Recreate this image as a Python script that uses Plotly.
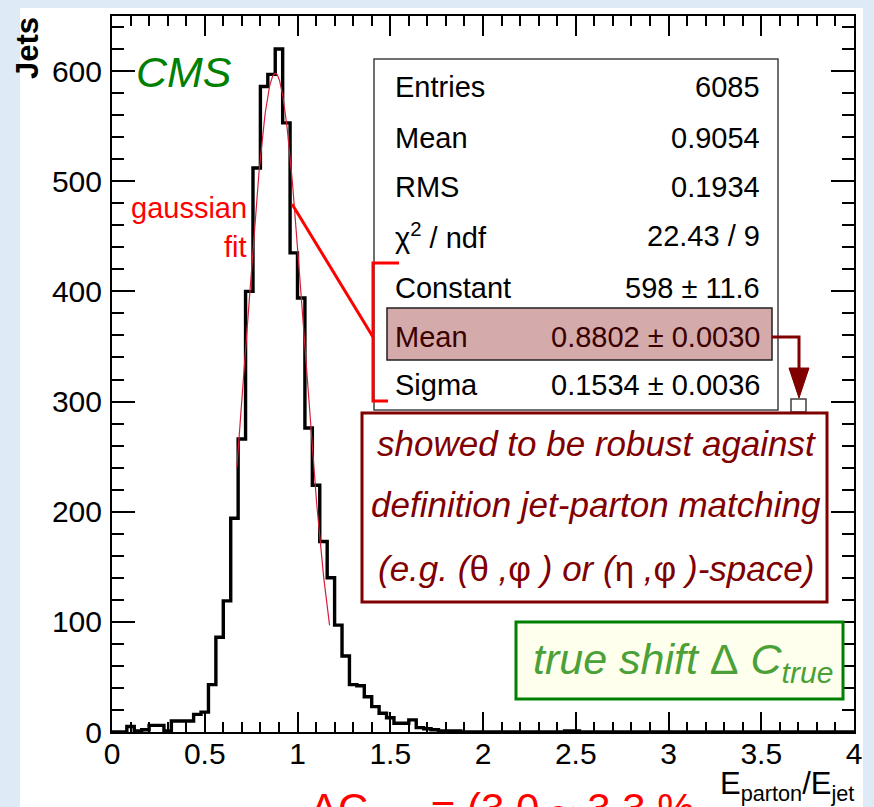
import numpy as np
import plotly.graph_objects as go

# ---------------- data ----------------
BIN_START = 0.0
BIN_WIDTH = 0.04
counts = [0, 0, 5, 1, 2, 6, 6, 1, 10, 10,
          10, 16, 18, 43, 86, 119, 194, 266, 400, 512,
          586, 597, 620, 553, 435, 394, 276, 224, 173, 140,
          97, 69, 43, 42, 32, 23, 17, 13, 8, 8,
          11, 4, 3, 2, 1, 1, 1, 0, 0, 0,
          0, 0, 0, 0, 0, 0, 0, 0, 0, 0,
          0, 1, 1, 0, 0, 0, 0, 0, 0, 0,
          0, 0, 0, 0, 0, 0, 0, 0, 0, 0,
          0, 0, 0, 0, 0, 0, 0, 0, 0, 0,
          0, 0, 0, 0, 0, 0, 0, 0, 0, 0]

FIT_CONST = 598.0
FIT_MEAN = 0.8802
FIT_SIGMA = 0.1534
FIT_RANGE = (0.673, 1.173)

x_tickvals = [0, 0.5, 1, 1.5, 2, 2.5, 3, 3.5, 4]
x_ticktext = ["0", "0.5", "1", "1.5", "2", "2.5", "3", "3.5", "4"]
y_tickvals = [0, 100, 200, 300, 400, 500, 600]
y_ticktext = ["0", "100", "200", "300", "400", "500", "600"]

stat_labels = ["Entries", "Mean", "RMS", "χ<sup>2</sup> / ndf", "Constant", "Mean", "Sigma"]
stat_values = ["6085", "0.9054", "0.1934", "22.43 / 9", "598 ± 11.6", "0.8802 ± 0.0030", "0.1534 ± 0.0036"]

# ---------------- geometry helpers ----------------
W, H = 874, 807
L, R, T, B = 112, 854, 16, 732
FONT = "Liberation Sans, Arial, Helvetica, sans-serif"


def px(x):
    return (x - L) / (R - L)


def py(y):
    return (B - y) / (B - T)


edges = BIN_START + BIN_WIDTH * np.arange(len(counts) + 1)
hist_x = np.concatenate([[edges[0]], edges])
hist_y = list(np.concatenate([[0], counts, [counts[-1]]]))

fx = np.linspace(FIT_RANGE[0], FIT_RANGE[1], 200)
fy = FIT_CONST * np.exp(-0.5 * ((fx - FIT_MEAN) / FIT_SIGMA) ** 2)

fig = go.Figure()
fig.add_trace(go.Scatter(x=hist_x, y=hist_y, mode="lines",
                         line=dict(color="black", width=3.4, shape="hv"),
                         hoverinfo="skip", showlegend=False))
fig.add_trace(go.Scatter(x=fx, y=fy, mode="lines",
                         line=dict(color="rgb(215,30,55)", width=1.2),
                         hoverinfo="skip", showlegend=False))

shapes = []
annotations = []

# page background: light blue border, white inner
shapes.append(dict(type="rect", xref="paper", yref="paper", layer="below",
                   x0=px(20), x1=px(863), y0=py(8), y1=py(810),
                   fillcolor="white", line=dict(width=0)))

# stats box
shapes.append(dict(type="rect", xref="paper", yref="paper",
                   x0=px(374), x1=px(778), y0=py(59), y1=py(410),
                   fillcolor="white", line=dict(color="#404040", width=1.5)))
# highlighted Mean row
shapes.append(dict(type="rect", xref="paper", yref="paper",
                   x0=px(387), x1=px(772), y0=py(308), y1=py(360),
                   fillcolor="rgb(212,170,170)", line=dict(color="#202020", width=1.5)))

row_y = [87, 138, 187, 236, 288, 337, 385]
for i, (lab, val) in enumerate(zip(stat_labels, stat_values)):
    col = "#3a0000" if i == 5 else "black"
    annotations.append(dict(xref="paper", yref="paper", x=px(393), y=py(row_y[i]),
                            text=lab, showarrow=False, xanchor="left", yanchor="middle",
                            font=dict(family=FONT, size=29, color=col)))
    annotations.append(dict(xref="paper", yref="paper", x=px(762), y=py(row_y[i]),
                            text=val, showarrow=False, xanchor="right", yanchor="middle",
                            font=dict(family=FONT, size=29, color=col)))

# red line + bracket
red = "rgb(255,0,0)"
shapes.append(dict(type="line", xref="paper", yref="paper",
                   x0=px(292), y0=py(204), x1=px(373), y1=py(337), line=dict(color=red, width=3)))
shapes.append(dict(type="path", xref="paper", yref="paper",
                   path=f"M {px(399)} {py(263)} L {px(373)} {py(263)} L {px(373)} {py(401)} L {px(388)} {py(401)}",
                   line=dict(color=red, width=3)))

# dark red arrow from Mean row
dred = "rgb(128,0,0)"
shapes.append(dict(type="path", xref="paper", yref="paper",
                   path=f"M {px(772)} {py(337)} L {px(799)} {py(337)} L {px(799)} {py(372)}",
                   line=dict(color=dred, width=3)))
shapes.append(dict(type="path", xref="paper", yref="paper",
                   path=f"M {px(789)} {py(368)} L {px(809)} {py(368)} L {px(799)} {py(398)} Z",
                   fillcolor=dred, line=dict(color=dred, width=1)))
shapes.append(dict(type="rect", xref="paper", yref="paper",
                   x0=px(791), x1=px(806), y0=py(399), y1=py(412),
                   fillcolor="white", line=dict(color="#404040", width=1.5)))

# maroon box
shapes.append(dict(type="rect", xref="paper", yref="paper",
                   x0=px(362), x1=px(827), y0=py(413), y1=py(602),
                   fillcolor="white", line=dict(color=dred, width=3)))
maroon_lines = [
    "<i>showed to be robust against</i>",
    "<i>definition jet-parton matching</i>",
    "<i>(e.g. (</i>θ<i> ,</i>φ<i> ) or (</i>η<i> ,</i>φ<i> )-space)</i>",
]
maroon_y = [443, 504, 568]
for t, yy in zip(maroon_lines, maroon_y):
    annotations.append(dict(xref="paper", yref="paper", x=px(596), y=py(yy), text=t,
                            showarrow=False, xanchor="center", yanchor="middle",
                            font=dict(family=FONT, size=35, color=dred)))

# green box
shapes.append(dict(type="rect", xref="paper", yref="paper",
                   x0=px(516), x1=px(843), y0=py(622), y1=py(699),
                   fillcolor="rgb(255,255,238)", line=dict(color="rgb(0,128,0)", width=3)))
annotations.append(dict(xref="paper", yref="paper", x=px(683), y=py(662),
                        text="<i>true shift </i>Δ<i> C<sub>true</sub></i>",
                        showarrow=False, xanchor="center", yanchor="middle",
                        font=dict(family=FONT, size=43, color="rgb(75,160,55)")))

# CMS
annotations.append(dict(xref="paper", yref="paper", x=px(134), y=py(72),
                        text="<i>CMS</i>", showarrow=False, xanchor="left", yanchor="middle",
                        font=dict(family=FONT, size=43, color="rgb(0,128,0)")))

# gaussian fit label
annotations.append(dict(xref="paper", yref="paper", x=px(249), y=py(208),
                        text="gaussian", showarrow=False, xanchor="right", yanchor="middle",
                        font=dict(family=FONT, size=29, color=red)))
annotations.append(dict(xref="paper", yref="paper", x=px(249), y=py(247),
                        text="fit", showarrow=False, xanchor="right", yanchor="middle",
                        font=dict(family=FONT, size=29, color=red)))

# axis titles
annotations.append(dict(xref="paper", yref="paper", x=px(28), y=py(15),
                        text="<b>Jets</b>", showarrow=False, textangle=-90,
                        xanchor="center", yanchor="top",
                        font=dict(family=FONT, size=31, color="black")))
annotations.append(dict(xref="paper", yref="paper", x=px(856), y=py(764),
                        text="E<sub>parton</sub>/E<sub>jet</sub>", showarrow=False,
                        xanchor="right", yanchor="top",
                        font=dict(family=FONT, size=31, color="black")))

# partially visible red text at bottom (cut off by the page edge)
annotations.append(dict(xref="paper", yref="paper", x=px(308), y=py(783),
                        text="ΔC<sub>true</sub> = (3.0 ~ 3.3 %", showarrow=False,
                        xanchor="left", yanchor="top",
                        font=dict(family=FONT, size=42, color=red)))

axis_common = dict(showline=True, linecolor="black", linewidth=2, mirror="allticks",
                   ticks="inside", tickcolor="black", tickwidth=1.5,
                   showgrid=False, zeroline=False,
                   tickfont=dict(family=FONT, size=30, color="black"))

fig.update_layout(
    width=W, height=H,
    margin=dict(l=L, r=W - R, t=T, b=H - B),
    paper_bgcolor="rgb(222,235,246)",
    plot_bgcolor="white",
    shapes=shapes,
    annotations=annotations,
    xaxis=dict(range=[0, 4], tickvals=x_tickvals, ticktext=x_ticktext, ticklen=20,
               minor=dict(dtick=0.1, tick0=0, ticks="inside", ticklen=10, tickcolor="black", tickwidth=1.5),
               ticklabelstandoff=-6, **axis_common),
    yaxis=dict(range=[0, 650], tickvals=y_tickvals, ticktext=y_ticktext, ticklen=23,
               minor=dict(dtick=20, tick0=0, ticks="inside", ticklen=12, tickcolor="black", tickwidth=1.5),
               ticklabelstandoff=2, **axis_common),
)

fig.write_html("out.html")
